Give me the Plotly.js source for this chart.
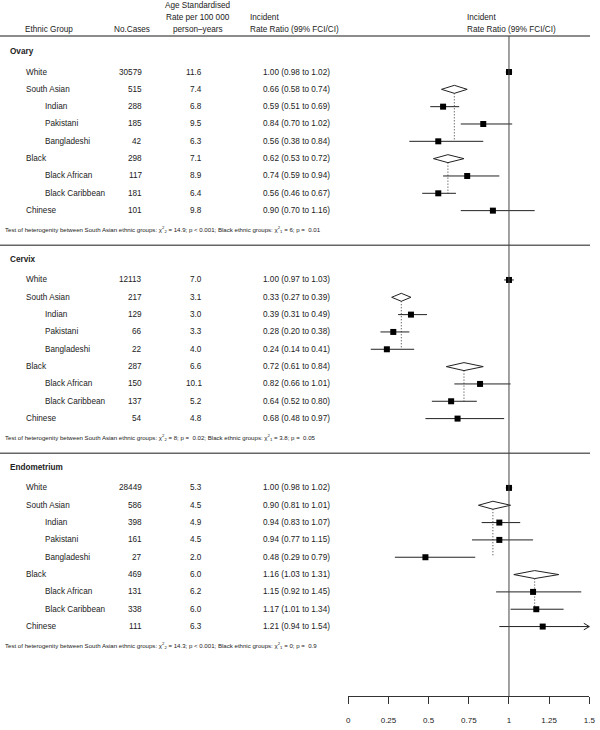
<!DOCTYPE html>
<html>
<head>
<meta charset="utf-8">
<script src="https://cdn.plot.ly/plotly-3.0.1.min.js"></script>
<style>html,body{margin:0;padding:0;background:#fff;}#chart{width:600px;height:730px;}</style>
</head>
<body>
<div id="chart"></div>
<script>
// ---------------- DATA ----------------
const sites = ["Ovary", "Cervix", "Endometrium"];
const groups = ["White", "South Asian", "Indian", "Pakistani", "Bangladeshi", "Black", "Black African", "Black Caribbean", "Chinese"];
const isSubgroup = [false, false, true, true, true, false, true, true, false];
const isSummary = [false, true, false, false, false, true, false, false, false];
const summaryLastChild = {1: 4, 5: 7};

const ovaryCases = [30579, 515, 288, 185, 42, 298, 117, 181, 101];
const ovaryRate  = [11.6, 7.4, 6.8, 9.5, 6.3, 7.1, 8.9, 6.4, 9.8];
const ovaryIRR   = [1.00, 0.66, 0.59, 0.84, 0.56, 0.62, 0.74, 0.56, 0.90];
const ovaryLo    = [0.98, 0.58, 0.51, 0.70, 0.38, 0.53, 0.59, 0.46, 0.70];
const ovaryHi    = [1.02, 0.74, 0.69, 1.02, 0.84, 0.72, 0.94, 0.67, 1.16];

const cervixCases = [12113, 217, 129, 66, 22, 287, 150, 137, 54];
const cervixRate  = [7.0, 3.1, 3.0, 3.3, 4.0, 6.6, 10.1, 5.2, 4.8];
const cervixIRR   = [1.00, 0.33, 0.39, 0.28, 0.24, 0.72, 0.82, 0.64, 0.68];
const cervixLo    = [0.97, 0.27, 0.31, 0.20, 0.14, 0.61, 0.66, 0.52, 0.48];
const cervixHi    = [1.03, 0.39, 0.49, 0.38, 0.41, 0.84, 1.01, 0.80, 0.97];

const endoCases = [28449, 586, 398, 161, 27, 469, 131, 338, 111];
const endoRate  = [5.3, 4.5, 4.9, 4.5, 2.0, 6.0, 6.2, 6.0, 6.3];
const endoIRR   = [1.00, 0.90, 0.94, 0.94, 0.48, 1.16, 1.15, 1.17, 1.21];
const endoLo    = [0.98, 0.81, 0.83, 0.77, 0.29, 1.03, 0.92, 1.01, 0.94];
const endoHi    = [1.02, 1.01, 1.07, 1.15, 0.79, 1.31, 1.45, 1.34, 1.54];

const saChi  = ["14.9", "8", "14.3"];
const saP    = ["p < 0.001", "p =  0.02", "p < 0.001"];
const blkChi = ["6", "3.8", "0"];
const blkP   = ["p =  0.01", "p =  0.05", "p =  0.9"];

const tickVals = [0, 0.25, 0.5, 0.75, 1, 1.25, 1.5];
const tickText = ["0", "0.25", "0.5", "0.75", "1", "1.25", "1.5"];

const siteData = [
  {cases: ovaryCases, rate: ovaryRate, irr: ovaryIRR, lo: ovaryLo, hi: ovaryHi},
  {cases: cervixCases, rate: cervixRate, irr: cervixIRR, lo: cervixLo, hi: cervixHi},
  {cases: endoCases, rate: endoRate, irr: endoIRR, lo: endoLo, hi: endoHi}
];

// ---------------- LAYOUT GEOMETRY ----------------
const W = 600, H = 730;
const px0 = 348.3, px1 = 589.3;          // pixel of 0 and 1.5 on forest axis
const axMax = 1.5;
const scale = (px1 - px0) / axMax;
const rowTop = 72, rowH = 17.33;
const FONT = "Liberation Sans, Arial, Helvetica, sans-serif";
const TXT = "#222";
const fs = 8.2;
const px2paperY = p => 1 - p / H;
const px2paperX = p => p / W;

const traces = [];
const annotations = [];
const shapes = [];

const ciX = [], ciY = [], sqX = [], sqY = [];
const dotX = [], dotY = [];
const arrowX = [], arrowY = [];

sites.forEach((site, s) => {
  const d = siteData[s];
  const base = s * 12;
  groups.forEach((g, k) => {
    const t = base + k;
    if (isSummary[k]) {
      const h = 0.23;
      traces.push({
        x: [d.lo[k], d.irr[k], d.hi[k], d.irr[k], d.lo[k]],
        y: [t, t - h, t, t + h, t],
        mode: "lines", fill: "toself", fillcolor: "#fff",
        line: {color: "#222", width: 1}, hoverinfo: "skip", showlegend: false,
        xaxis: "x", yaxis: "y"
      });
      const last = base + summaryLastChild[k];
      dotX.push(d.irr[k], d.irr[k], null);
      dotY.push(t + h, last, null);
    } else {
      const hi = Math.min(d.hi[k], axMax);
      ciX.push(d.lo[k], hi, null);
      ciY.push(t, t, null);
      sqX.push(d.irr[k]); sqY.push(t);
      if (d.hi[k] > axMax) {
        const dx = 5.5 / scale;
        arrowX.push(axMax - dx, axMax, axMax - dx, null);
        arrowY.push(t - 0.19, t, t + 0.19, null);
      }
    }
    const indent = isSubgroup[k] ? 43 : 24;
    annotations.push({xref: "paper", yref: "y", x: px2paperX(indent), y: t, text: g,
      xanchor: "left", yanchor: "middle", showarrow: false, font: {family: FONT, size: fs, color: TXT}});
    annotations.push({xref: "paper", yref: "y", x: px2paperX(143.5), y: t, text: String(d.cases[k]),
      xanchor: "right", yanchor: "middle", showarrow: false, font: {family: FONT, size: fs, color: TXT}});
    annotations.push({xref: "paper", yref: "y", x: px2paperX(203.5), y: t, text: d.rate[k].toFixed(1),
      xanchor: "right", yanchor: "middle", showarrow: false, font: {family: FONT, size: fs, color: TXT}});
    annotations.push({xref: "paper", yref: "y", x: px2paperX(331.5), y: t,
      text: d.irr[k].toFixed(2) + " (" + d.lo[k].toFixed(2) + " to " + d.hi[k].toFixed(2) + ")",
      xanchor: "right", yanchor: "middle", showarrow: false, font: {family: FONT, size: fs, color: TXT}});
  });
  annotations.push({xref: "paper", yref: "y", x: px2paperX(8), y: base - 1.2, text: "<b>" + site + "</b>",
    xanchor: "left", yanchor: "middle", showarrow: false, font: {family: FONT, size: fs, color: TXT}});
  annotations.push({xref: "paper", yref: "y", x: px2paperX(2.5), y: base + 9.1,
    text: "Test of heterogenity between South Asian ethnic groups: χ<sup>2</sup><sub>2</sub> = " + saChi[s] + "; " + saP[s] +
          "; Black ethnic groups: χ<sup>2</sup><sub>1</sub> = " + blkChi[s] + "; " + blkP[s],
    xanchor: "left", yanchor: "middle", showarrow: false, font: {family: FONT, size: 6.1, color: TXT}});
  if (s < 2) {
    shapes.push({type: "line", xref: "paper", yref: "y", x0: 0, x1: px2paperX(590), y0: base + 10, y1: base + 10,
      line: {color: "#666", width: 1.5}});
  }
});

traces.push({x: dotX, y: dotY, mode: "lines", line: {color: "#333", width: 1, dash: "1px,2px"},
  hoverinfo: "skip", showlegend: false, xaxis: "x", yaxis: "y"});
traces.push({x: ciX, y: ciY, mode: "lines", line: {color: "#222", width: 1},
  hoverinfo: "skip", showlegend: false, xaxis: "x", yaxis: "y"});
traces.push({x: arrowX, y: arrowY, mode: "lines", line: {color: "#222", width: 1},
  hoverinfo: "skip", showlegend: false, xaxis: "x", yaxis: "y"});
traces.push({x: sqX, y: sqY, mode: "markers", marker: {symbol: "square", size: 6, color: "#000", line: {width: 0}},
  hoverinfo: "skip", showlegend: false, xaxis: "x", yaxis: "y"});
traces.push({x: [0, axMax], y: [null, null], mode: "markers", marker: {opacity: 0},
  hoverinfo: "skip", showlegend: false, xaxis: "x2", yaxis: "y"});

const hdr = (text, xp, yp, anchor) => annotations.push({xref: "paper", yref: "paper", x: px2paperX(xp), y: px2paperY(yp),
  text: text, xanchor: anchor, yanchor: "middle", showarrow: false, font: {family: FONT, size: fs, color: TXT}});
hdr("Ethnic Group", 23, 29, "left");
hdr("No.Cases", 132, 29, "center");
hdr("Age Standardised", 198, 6, "center");
hdr("Rate per 100 000", 198, 17.5, "center");
hdr("person\u2013years", 197.5, 29, "center");
hdr("Incident", 248, 17.5, "left");
hdr("Rate Ratio (99% FCI/CI)", 248, 29, "left");
hdr("Incident", 465, 17.5, "left");
hdr("Rate Ratio (99% FCI/CI)", 465, 29, "left");

shapes.push({type: "line", xref: "paper", yref: "paper", x0: 0, x1: px2paperX(590), y0: px2paperY(36), y1: px2paperY(36),
  line: {color: "#666", width: 1.5}});
shapes.push({type: "line", xref: "x", yref: "paper", x0: 1, x1: 1, y0: px2paperY(36), y1: px2paperY(696),
  line: {color: "#444", width: 1}});

const layout = {
  width: W, height: H,
  margin: {l: 0, r: 0, t: 0, b: 0, pad: 0},
  paper_bgcolor: "#fff", plot_bgcolor: "rgba(0,0,0,0)",
  showlegend: false,
  xaxis: {domain: [0, 1], range: [-px0 / scale, (W - px0) / scale], visible: false, fixedrange: true},
  xaxis2: {domain: [px2paperX(px0), px2paperX(px1)], range: [0, axMax], anchor: "free", position: px2paperY(696),
    side: "bottom", showline: true, linecolor: "#333", linewidth: 1, ticks: "outside", ticklen: 7, tickcolor: "#333", tickwidth: 1,
    tickvals: tickVals, ticktext: tickText, showgrid: false, zeroline: false, ticklabelstandoff: 9,
    tickfont: {family: FONT, size: 8, color: TXT}, fixedrange: true},
  yaxis: {domain: [0, 1], range: [(H - rowTop) / rowH, -rowTop / rowH], visible: false, fixedrange: true},
  annotations: annotations,
  shapes: shapes
};

Plotly.newPlot("chart", traces, layout, {displayModeBar: false, staticPlot: true});
</script>
</body>
</html>
